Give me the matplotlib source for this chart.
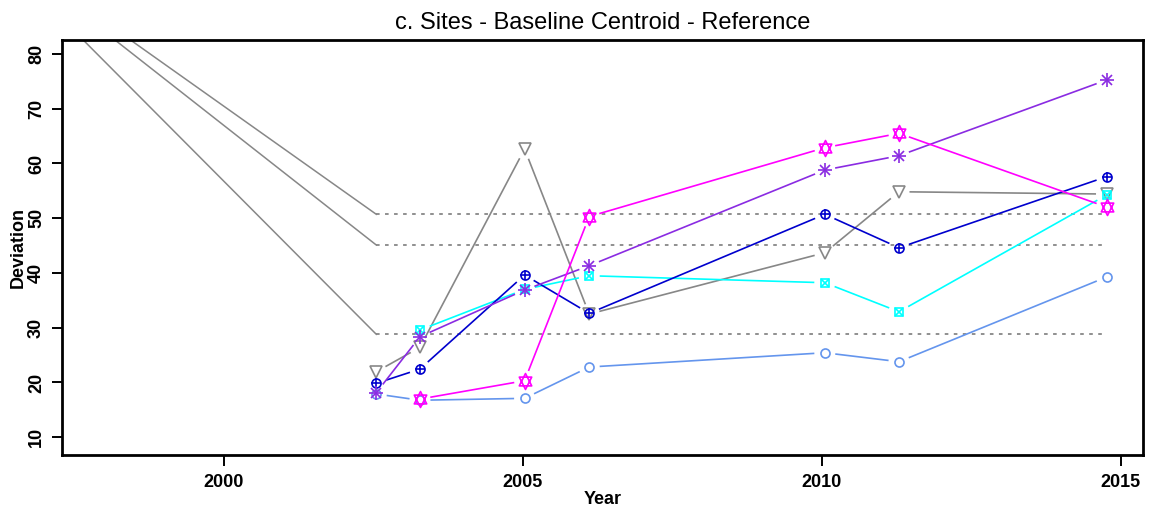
import matplotlib

matplotlib.use("Agg")
import matplotlib.pyplot as plt
import numpy as np
from matplotlib.path import Path

# survey years (x positions of the markers)
years = [2002.55, 2003.28, 2005.03, 2006.11, 2010.05, 2011.29, 2014.76]
late_years = years[1:]

# site series
sites_grey = [21.96, 26.42, 62.65, 32.5, 43.7, 54.84, 54.42]
sites_blue = [19.84, 22.45, 39.63, 32.63, 50.72, 44.61, 57.59]
sites_purple = [18.13, 28.36, 36.89, 41.33, 58.81, 61.42, 75.25]
sites_magenta = [16.97, 20.32, 50.31, 62.88, 65.51, 52.05]
sites_cyan = [29.58, 37.0, 39.5, 38.22, 32.92, 54.24]
sites_lightblue = [17.9, 16.75, 17.1, 22.82, 25.43, 23.79, 39.26]

# reference levels: lines come in from a common point off the top left
ref_origin_year = 1995.75
ref_origin_value = 103.4
ref_levels = [50.72, 45.11, 28.8]

GREY = "#878787"
GAP = 10.5  # px gap around markers, like R type="b"

plt.rcParams["font.family"] = ["Liberation Sans", "DejaVu Sans"]

# star of David (R pch 11)
star_david = Path(
    [(0, 1), (-0.78, -0.55), (0.78, -0.55), (0, 1),
     (0, -1), (-0.78, 0.55), (0.78, 0.55), (0, -1)],
    [Path.MOVETO, Path.LINETO, Path.LINETO, Path.CLOSEPOLY,
     Path.MOVETO, Path.LINETO, Path.LINETO, Path.CLOSEPOLY],
)


def gapped(ax, x, y, color):
    pts = ax.transData.transform(np.column_stack([x, y]))
    inv = ax.transData.inverted()
    for p, q in zip(pts[:-1], pts[1:]):
        d = q - p
        n = np.hypot(*d)
        if n <= 2 * GAP:
            continue
        u = d / n
        a, b = inv.transform([p + u * GAP, q - u * GAP])
        ax.plot([a[0], b[0]], [a[1], b[1]], color=color, lw=1.2,
                solid_capstyle="butt")


def mark(ax, x, y, color, kinds):
    for m, ms in kinds:
        ax.plot(x, y, ls="none", marker=m, ms=ms, mfc="none", mec=color,
                mew=1.2)


fig = plt.figure(figsize=(11.55, 5.16), dpi=100)
ax = fig.add_axes([61.7 / 1155, 1 - 455 / 516, (1143 - 61.7) / 1155,
                   (455 - 40) / 516])
ax.set_xlim(1997.29, 2015.37)
ax.set_ylim(6.75, 82.56)

# reference lines
for lv in ref_levels:
    ax.plot([ref_origin_year, years[0]], [ref_origin_value, lv],
            color=GREY, lw=1.1)
    ax.plot([years[0], years[-1]], [lv, lv], color=GREY, lw=1.3,
            ls=(0, (2, 3)))

series = [
    (years, sites_grey, GREY, [("v", 9)]),
    (years, sites_lightblue, "#6495ED", [("o", 6.5)]),
    (late_years, sites_cyan, "#00FFFF", [("s", 6.3), ("x", 6.3)]),
    (years, sites_blue, "#0000CD", [("o", 6.5), ("+", 6.5)]),
    (years, sites_purple, "#8A2BE2", [("+", 10), ("x", 7.5)]),
    (late_years, sites_magenta, "#FF00FF", [(star_david, 11.5)]),
]
for x, y, c, kinds in series:
    gapped(ax, x, y, c)
    mark(ax, x, y, c, kinds)

ax.set_xticks([2000, 2005, 2010, 2015])
ax.set_yticks(range(10, 81, 10))
ax.tick_params(axis="x", length=8, width=1.4, labelsize=13, pad=6)
ax.tick_params(axis="y", length=7, width=1.4, labelsize=13, pad=5)
for lab in ax.get_xticklabels() + ax.get_yticklabels():
    lab.set_fontweight("bold")
for lab in ax.get_yticklabels():
    lab.set_rotation(90)
    lab.set_va("center")
for s in ax.spines.values():
    s.set_linewidth(2)

ax.set_xlabel("Year", fontsize=13, fontweight="bold", labelpad=0)
ax.set_ylabel("Deviation", fontsize=13, fontweight="bold", labelpad=1)
ax.set_title("c. Sites - Baseline Centroid - Reference", fontsize=17, pad=8)

fig.savefig("out.png", dpi=100)
